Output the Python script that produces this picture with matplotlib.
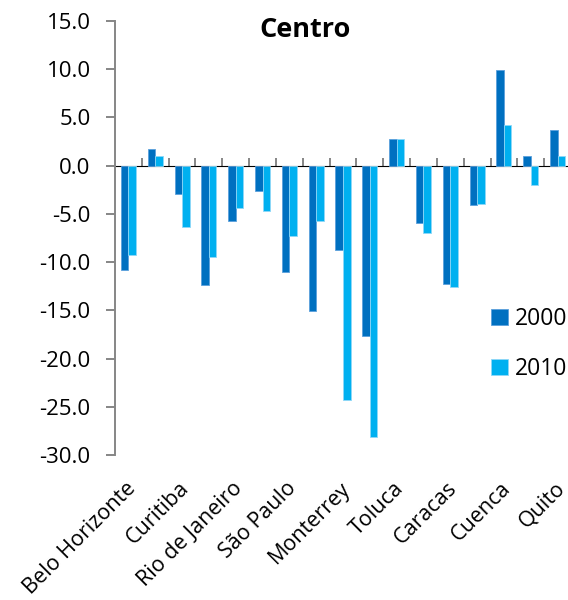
import numpy as np
import matplotlib.pyplot as plt
import matplotlib.transforms as mtransforms

plt.rcParams['font.family'] = ['Open Sans', 'DejaVu Sans']

# categorías (sólo se ven las etiquetas de una de cada dos)
cities = ['Belo Horizonte', '', 'Curitiba', '', 'Rio de Janeiro', '', 'São Paulo', '',
          'Monterrey', '', 'Toluca', '', 'Caracas', '', 'Cuenca', '', 'Quito']
v2000 = [-10.8, 1.7, -2.9, -12.4, -5.7, -2.6, -11.0, -15.1, -8.7,
         -17.7, 2.8, -5.9, -12.3, -4.1, 9.9, 1.0, 3.7]
v2010 = [-9.3, 1.0, -6.4, -9.5, -4.4, -4.7, -7.3, -5.7, -24.3,
         -28.1, 2.8, -7.0, -12.6, -4.0, 4.2, -2.0, 1.0]
yticks = np.arange(-30, 16, 5)

gray = '#868686'
fig = plt.figure(figsize=(5.68, 6.0), dpi=100)
ax = fig.add_axes([115/568, 1 - 455/600, (571 - 115)/568, (455 - 21)/600])

x = np.arange(len(cities))
w = 0.28
ax.bar(x - w/2, v2000, w, color='#0070C0', edgecolor='#5aa0dc', linewidth=0.6, label='2000', zorder=2)
ax.bar(x + w/2, v2010, w, color='#00B0F0', edgecolor='#8fd8f8', linewidth=0.6, label='2010', zorder=2)

ax.set_xlim(-0.5, len(cities) - 0.5)
ax.set_ylim(-30, 15)

for s in ['top', 'right', 'bottom']:
    ax.spines[s].set_visible(False)
ax.spines['left'].set_color(gray)
ax.spines['left'].set_linewidth(1.4)

ax.set_yticks(yticks)
ax.set_yticklabels(['%.1f' % v for v in yticks], fontsize=16)
ax.tick_params(axis='y', length=6.5, width=1.4, color=gray, pad=11)

ax.set_xticks(x)
ax.set_xticklabels(cities, fontsize=15.5, rotation=45, ha='right', va='center',
                   rotation_mode='anchor')
ax.tick_params(axis='x', length=0, pad=22)
shift = mtransforms.ScaledTranslation(4/100, 0, fig.dpi_scale_trans)
for lab in ax.get_xticklabels():
    lab.set_transform(lab.get_transform() + shift)

# eje en cero con marcas entre categorías
zero = ax.secondary_xaxis(30/45)
zero.spines['bottom'].set_color(gray)
zero.spines['bottom'].set_linewidth(1.4)
zero.set_xticks(np.arange(0.5, len(cities) - 1, 1))
zero.set_xticklabels([])
zero.tick_params(length=6, width=1.4, color=gray)

fig.text(305/568, 1 - 30/600, 'Centro', fontsize=19.5, fontweight='bold', ha='center', va='center')

ax.legend(loc='center left', bbox_to_anchor=(491/568, 1 - 344/600), bbox_transform=fig.transFigure,
          frameon=False, fontsize=16.5, handlelength=0.72, handleheight=0.72, handletextpad=0.3,
          labelspacing=1.15, borderpad=0, borderaxespad=0)

fig.savefig('out.png', dpi=100)
